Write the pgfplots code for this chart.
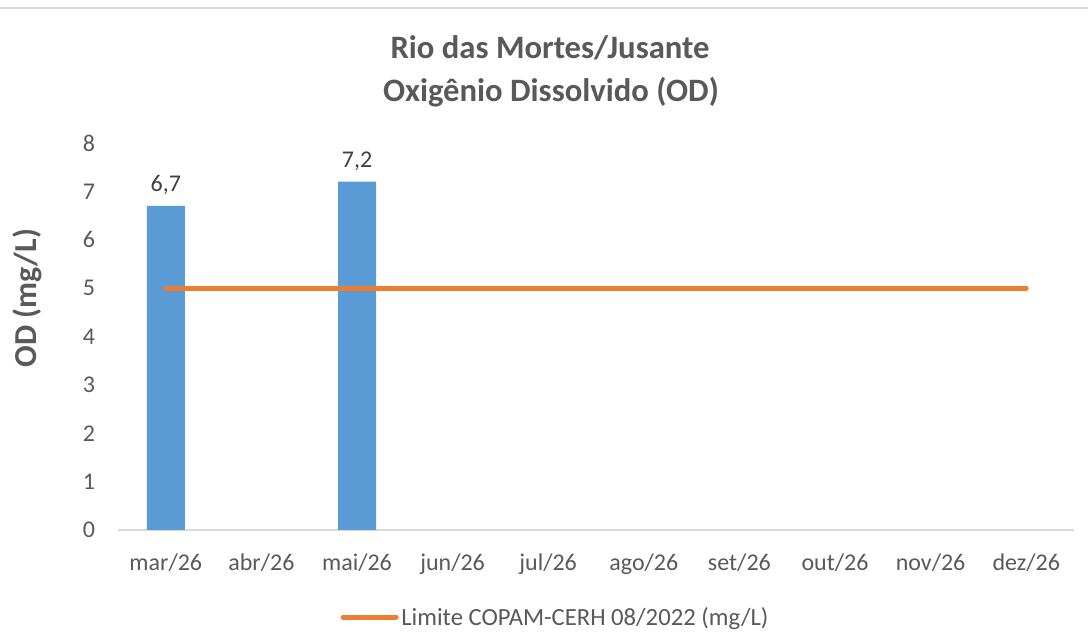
\documentclass[border=0pt]{standalone}
\usepackage{pgfplots}
\pgfplotsset{compat=1.18}
\usepackage{fontspec}
\setmainfont{Carlito}
\definecolor{barblue}{HTML}{5B9BD5}
\definecolor{limorange}{HTML}{ED7D31}
\definecolor{txtgray}{HTML}{595959}
\definecolor{axgray}{HTML}{D9D9D9}
\begin{document}
\begin{tikzpicture}
\useasboundingbox (0,0) rectangle (816pt,476.25pt);
\draw[axgray, line width=1.5pt] (0,470.6pt) -- (816pt,470.6pt);
\node[txtgray, font=\fontsize{24.5}{28}\selectfont\bfseries, anchor=center] at (412.5pt,440.25pt) {Rio das Mortes/Jusante};
\node[txtgray, font=\fontsize{24.5}{28}\selectfont\bfseries, anchor=center] at (413.25pt,407.25pt) {Oxigênio Dissolvido (OD)};
\begin{axis}[
  at={(88.5pt,78.75pt)}, anchor=south west,
  scale only axis,
  width=717pt, height=290.25pt,
  xmin=-0.5, xmax=9.5,
  ymin=0, ymax=8,
  xtick={0,1,2,3,4,5,6,7,8,9},
  xticklabels={mar/26,abr/26,mai/26,jun/26,jul/26,ago/26,set/26,out/26,nov/26,dez/26},
  ytick={0,1,2,3,4,5,6,7,8},
  major tick length=0pt,
  axis y line*=left,
  axis x line*=bottom,
  y axis line style={draw=none},
  x axis line style={draw=axgray, line width=1.5pt, -},
  /pgf/number format/assume math mode=true,
  tick label style={font=\fontsize{18}{21}\selectfont, text=txtgray},
  yticklabel style={anchor=east, inner sep=0pt, xshift=-17pt},
  xticklabel style={anchor=north, inner sep=0pt, yshift=-18pt},
  ylabel={OD (mg/L)},
  ylabel style={at={(rel axis cs:-0.0952,0.5995)}, anchor=center, font=\fontsize{24}{28}\selectfont\bfseries, text=txtgray},
  legend style={at={(rel axis cs:0.458,-0.225)}, anchor=center, draw=none, fill=none,
    font=\fontsize{18.5}{21}\selectfont, text=txtgray, inner sep=0pt,
    legend cell align=left},
  legend image code/.code={\draw[line width=3.75pt, limorange] (-0.2cm,0) -- (1.2cm,0);},
  clip=false,
]
\addplot[ybar, bar width=28.5pt, fill=barblue, draw=none,
  nodes near coords,
  nodes near coords style={font=\fontsize{18}{21}\selectfont, text=black!75, inner sep=0pt, yshift=8pt,
    /pgf/number format/.cd, use comma, fixed, fixed zerofill, precision=1},
  forget plot]
  coordinates {(0,6.7) (2,7.2)};
\addplot[limorange, line width=3.75pt, line cap=round, mark=none]
  coordinates {(0,5) (1,5) (2,5) (3,5) (4,5) (5,5) (6,5) (7,5) (8,5) (9,5)};
\addlegendentry{Limite COPAM-CERH 08/2022 (mg/L)}
\end{axis}
\end{tikzpicture}
\end{document}
